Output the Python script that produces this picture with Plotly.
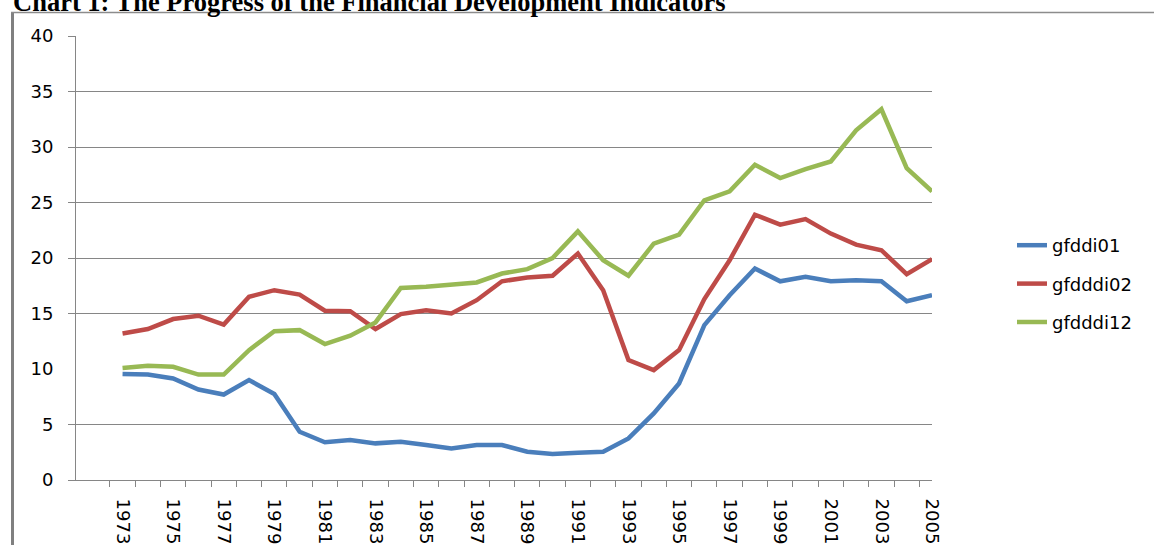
import plotly.graph_objects as go

years = [str(y) for y in range(1973, 2006)]
tick_text = [y if (int(y) - 1973) % 2 == 0 else "" for y in years]

gfddi01 = [9.55, 9.5, 9.15, 8.15, 7.7, 9.0, 7.75, 4.35, 3.4, 3.6, 3.3, 3.45, 3.15, 2.85,
           3.15, 3.15, 2.55, 2.35, 2.45, 2.55, 3.75, 6.0, 8.7, 13.95, 16.65, 19.05, 17.9,
           18.3, 17.9, 18.0, 17.9, 16.1, 16.65]
gfdddi02 = [13.2, 13.6, 14.5, 14.8, 14.0, 16.5, 17.1, 16.7, 15.25, 15.2, 13.6, 14.95, 15.3,
            15.0, 16.2, 17.9, 18.25, 18.4, 20.4, 17.1, 10.8, 9.9, 11.7, 16.3, 19.8, 23.9,
            23.0, 23.5, 22.2, 21.2, 20.7, 18.55, 19.9]
gfdddi12 = [10.1, 10.3, 10.2, 9.5, 9.5, 11.7, 13.4, 13.5, 12.25, 13.0, 14.2, 17.3, 17.4,
            17.6, 17.8, 18.6, 19.0, 20.0, 22.4, 19.8, 18.4, 21.3, 22.1, 25.2, 26.0, 28.4,
            27.2, 28.0, 28.7, 31.5, 33.4, 28.1, 26.0]

y_ticks = [0, 5, 10, 15, 20, 25, 30, 35, 40]
y_grid_ticks = [0, 5, 15, 20, 25, 30, 35, 40]

series = [("gfddi01", gfddi01, "#4A7EBB"),
          ("gfdddi02", gfdddi02, "#BE4B48"),
          ("gfdddi12", gfdddi12, "#98B954")]

W, H = 1154, 545
ML, MR, MT, MB = 76, 222, 36, 65
PW, PH = W - ML - MR, H - MT - MB

def px2x(px):
    return (px - ML) / PW

def py2y(py):
    return 1 - (py - MT) / PH

fig = go.Figure()
for name, vals, col in series:
    fig.add_trace(go.Scatter(x=years, y=vals, mode="lines", name=name,
                             legendgroup=name,
                             line=dict(color=col, width=4.5)))

fontfam = "DejaVu Sans"
grid_col = "#868686"

fig.update_layout(
    width=W, height=H,
    margin=dict(l=ML, r=MR, t=MT, b=MB, pad=0, autoexpand=False),
    paper_bgcolor="white", plot_bgcolor="white",
    font=dict(family=fontfam, size=18, color="#000000"),
    showlegend=True,
    legend=dict(x=px2x(1012), y=py2y(227), xanchor="left", yanchor="top",
                font=dict(family=fontfam, size=18, color="#000000"),
                tracegroupgap=12, bgcolor="rgba(0,0,0,0)"),
    xaxis=dict(type="category", tickmode="array", tickvals=years, ticktext=tick_text,
               tickangle=90, tickson="boundaries", ticks="outside", ticklen=6,
               tickcolor=grid_col, showgrid=False, showline=True, linecolor=grid_col,
               linewidth=1, ticklabelstandoff=14, zeroline=False, automargin=False,
               tickfont=dict(family=fontfam, size=18)),
    yaxis=dict(range=[0, 40], tickmode="array", tickvals=y_ticks, showgrid=False,
               ticks="", showline=True, linecolor=grid_col, linewidth=1, zeroline=False,
               ticklabelstandoff=18, automargin=False,
               tickfont=dict(family=fontfam, size=18)),
    yaxis2=dict(range=[0, 40], overlaying="y", side="left", tickmode="array",
                tickvals=y_grid_ticks, showgrid=True, gridcolor=grid_col, gridwidth=1,
                ticks="outside", ticklen=7, tickcolor=grid_col, showticklabels=False,
                zeroline=False, showline=False, automargin=False),
)

# invisible helper trace so that the overlaid grid axis exists
fig.add_trace(go.Scatter(x=[years[0]], y=[0], yaxis="y2", mode="markers",
                         marker=dict(opacity=0), showlegend=False, hoverinfo="skip"))

# chart frame (left and top borders)
fig.add_shape(type="line", xref="paper", yref="paper",
              x0=px2x(12.5), x1=px2x(12.5), y0=py2y(560), y1=py2y(12),
              line=dict(color="#808080", width=3))
fig.add_shape(type="line", xref="paper", yref="paper",
              x0=px2x(11), x1=px2x(1170), y0=py2y(12.5), y1=py2y(12.5),
              line=dict(color="#8c8c8c", width=1.5))

fig.add_annotation(text="<b>Chart 1: The Progress of the Financial Development Indicators</b>",
                   xref="paper", yref="paper", x=px2x(11), y=py2y(19),
                   xanchor="left", yanchor="bottom", showarrow=False,
                   font=dict(family="Liberation Serif", size=26.5, color="#000000"))

fig.write_html("out.html", config={"displayModeBar": False},
               post_script="document.body.style.margin='0';document.body.style.overflow='hidden';")
